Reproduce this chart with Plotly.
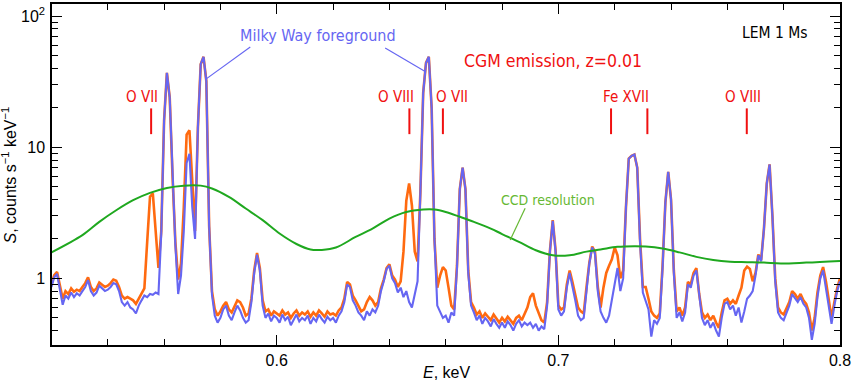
import math
import plotly.graph_objects as go

# ---- data -------------------------------------------------------------
e_start, e_step, n_chan = 0.520, 0.001, 281
energy = [round(e_start + e_step * i, 3) for i in range(n_chan)]

milky_way = [
    0.86, 1.02, 1.08, 0.85, 0.63, 0.74, 0.70, 0.78, 0.72, 0.77,
    0.74, 0.80, 0.86, 0.97, 0.80, 0.74, 0.78, 0.88, 0.84, 0.80,
    0.82, 0.86, 0.92, 0.90, 0.80, 0.66, 0.62, 0.66, 0.60, 0.58,
    0.54, 0.62, 0.68, 0.74, 0.72, 0.76, 0.75, 0.78, 0.76, 2.2,
    16, 37, 24, 6.0, 1.8, 0.76, 1.05, 2.3, 7.6, 8.9,
    3.5, 2.0, 14, 43, 49, 32, 2.5, 0.75, 0.52, 0.46,
    0.50, 0.58, 0.62, 0.52, 0.48, 0.55, 0.62, 0.57, 0.50, 0.46,
    0.48, 0.66, 1.10, 1.52, 1.15, 0.62, 0.50, 0.54, 0.47, 0.52,
    0.50, 0.46, 0.53, 0.48, 0.51, 0.44, 0.49, 0.53, 0.47, 0.50,
    0.48, 0.52, 0.45, 0.50, 0.47, 0.53, 0.49, 0.46, 0.51, 0.48,
    0.50, 0.46, 0.52, 0.56, 0.66, 0.90, 0.86, 0.68, 0.62, 0.55,
    0.52, 0.48, 0.56, 0.52, 0.58, 0.55, 0.62, 0.80, 0.95, 1.18,
    1.25, 1.0, 0.92, 0.78, 0.85, 0.72, 0.80, 0.66, 0.60, 0.78,
    0.95, 4.5, 26, 44, 49, 20, 2.0, 0.62, 0.55, 0.50,
    0.52, 0.46, 0.55, 0.52, 1.2, 4.8, 7.0, 4.8, 1.1, 0.62,
    0.55, 0.48, 0.52, 0.45, 0.50, 0.47, 0.43, 0.49, 0.45, 0.42,
    0.46, 0.42, 0.47, 0.44, 0.40, 0.45, 0.48, 0.43, 0.46, 0.44,
    0.46, 0.42, 0.45, 0.40, 0.43, 0.41, 0.62, 1.6, 2.75, 1.6,
    0.58, 0.52, 0.56, 0.85, 1.1, 0.88, 0.68, 0.52, 0.48, 0.50,
    0.82, 1.3, 1.72, 1.55, 0.80, 0.56, 0.50, 0.46, 0.52, 0.70,
    0.95, 1.2, 0.80, 1.0, 3.5, 8.2, 8.6, 8.8, 7.0, 1.9,
    0.78, 0.66, 0.58, 0.36, 0.48, 0.45, 0.50, 1.2, 3.8, 6.5,
    4.0, 1.1, 0.50, 0.55, 0.47, 0.55, 0.90, 0.85, 1.05, 1.15,
    0.72, 0.50, 0.44, 0.48, 0.42, 0.46, 0.40, 0.36, 0.50, 0.64,
    0.66, 0.58, 0.62, 0.52, 0.60, 0.46, 0.56, 0.70, 0.74, 0.80,
    1.05, 1.5, 1.35, 2.4, 5.3, 7.4, 3.0, 0.95, 0.55, 0.50,
    0.48, 0.55, 0.62, 0.76, 0.70, 0.66, 0.72, 0.64, 0.60, 0.50,
    0.34, 0.45, 0.72, 1.0, 1.15, 0.85, 0.62, 0.45, 0.62, 0.80, 0.95,
]

with_cgm = [
    0.90, 1.06, 1.12, 0.90, 0.70, 0.80, 0.76, 0.84, 0.79, 0.82,
    0.80, 0.86, 0.92, 1.02, 0.86, 0.80, 0.84, 0.93, 0.90, 0.86,
    0.88, 0.92, 0.98, 0.96, 0.86, 0.74, 0.70, 0.72, 0.70, 0.68,
    0.64, 0.70, 0.76, 0.84, 1.9, 4.2, 4.45, 2.4, 1.2, 2.3,
    16, 37, 24, 6.0, 1.9, 0.98, 1.3, 3.5, 12.5, 13.5,
    5.8, 2.3, 14, 43, 49, 32, 2.5, 0.80, 0.58, 0.52,
    0.56, 0.62, 0.66, 0.58, 0.55, 0.62, 0.68, 0.66, 0.60, 0.52,
    0.54, 0.70, 1.15, 1.56, 1.2, 0.68, 0.56, 0.58, 0.52, 0.56,
    0.54, 0.52, 0.57, 0.53, 0.55, 0.50, 0.54, 0.57, 0.52, 0.55,
    0.53, 0.56, 0.51, 0.55, 0.52, 0.57, 0.54, 0.51, 0.56, 0.53,
    0.54, 0.52, 0.57, 0.60, 0.70, 0.94, 0.90, 0.74, 0.68, 0.62,
    0.56, 0.58, 0.66, 0.72, 0.68, 0.62, 0.66, 0.84, 0.98, 1.2,
    1.28, 1.05, 0.98, 0.86, 0.95, 1.6, 3.9, 5.3, 3.6, 1.6,
    1.35, 4.5, 26, 44, 49, 20, 2.0, 0.85, 1.05, 1.22,
    1.15, 0.85, 0.62, 0.58, 1.25, 4.8, 7.0, 4.8, 1.15, 0.66,
    0.60, 0.53, 0.56, 0.50, 0.54, 0.51, 0.48, 0.53, 0.49, 0.46,
    0.50, 0.47, 0.51, 0.48, 0.45, 0.50, 0.52, 0.48, 0.53, 0.60,
    0.72, 0.77, 0.62, 0.55, 0.48, 0.46, 0.66, 1.62, 2.78, 1.65,
    0.62, 0.58, 0.60, 0.90, 1.15, 0.94, 0.76, 0.60, 0.56, 0.54,
    0.86, 1.32, 1.75, 1.6, 0.86, 0.60, 0.85, 1.1, 1.25, 1.4,
    1.72, 1.5, 1.0, 1.15, 3.5, 8.2, 8.6, 8.8, 7.0, 2.0,
    0.86, 0.86, 0.70, 0.56, 0.52, 0.50, 0.54, 1.25, 3.8, 6.5,
    4.0, 1.15, 0.56, 0.60, 0.52, 0.60, 0.94, 0.90, 1.1, 1.2,
    0.76, 0.55, 0.50, 0.53, 0.48, 0.52, 0.46, 0.42, 0.55, 0.68,
    0.70, 0.64, 0.68, 0.64, 0.74, 0.85, 1.15, 1.23, 1.18, 0.95,
    1.1, 1.52, 1.38, 2.4, 5.3, 7.4, 3.0, 1.0, 0.60, 0.55,
    0.53, 0.60, 0.66, 0.80, 0.76, 0.70, 0.76, 0.68, 0.64, 0.55,
    0.40, 0.50, 0.78, 1.05, 1.22, 0.95, 0.70, 0.50, 0.66, 0.84, 1.0,
]

ccd_E = [0.520, 0.531, 0.537, 0.543, 0.549, 0.555, 0.561, 0.567, 0.573,
         0.577, 0.583, 0.589, 0.595, 0.601, 0.607, 0.612, 0.616, 0.621,
         0.628, 0.634, 0.640, 0.646, 0.652, 0.656, 0.660, 0.665, 0.670,
         0.676, 0.680, 0.686, 0.692, 0.698, 0.704, 0.710, 0.715, 0.721,
         0.727, 0.731, 0.737, 0.743, 0.749, 0.755, 0.761, 0.767, 0.773,
         0.779, 0.788, 0.800]
ccd_S = [1.58, 2.14, 2.70, 3.31, 3.95, 4.49, 4.90, 5.10, 5.10,
         4.85, 4.18, 3.41, 2.78, 2.20, 1.83, 1.66, 1.65, 1.72,
         2.07, 2.40, 2.86, 3.21, 3.35, 3.35, 3.21, 2.95, 2.70,
         2.40, 2.18, 1.90, 1.64, 1.50, 1.50, 1.60, 1.66, 1.74,
         1.76, 1.75, 1.69, 1.58, 1.46, 1.38, 1.34, 1.33, 1.32,
         1.30, 1.32, 1.36]

line_E = [0.5554, 0.6471, 0.6590, 0.7187, 0.7316, 0.7669]
line_S = (12.6, 19.8)
line_labels = ["O VII", "O VIII", "O VII", "Fe XVII", "O VIII"]
label_E = [0.5523, 0.6425, 0.6621, 0.7240, 0.7654]
label_S = 24.0

BLUE = "#6666f2"
ORANGE = "#ff6a10"
GREEN = "#1fa81f"
RED = "#f01010"
NARROW = "DejaVu Sans Condensed, Liberation Sans Narrow, Roboto, sans-serif"
SANS = "Liberation Sans, Arial, sans-serif"

fig = go.Figure()
fig.add_trace(go.Scatter(x=energy, y=with_cgm, mode="lines",
                         line=dict(color=ORANGE, width=2.6), hoverinfo="skip"))
fig.add_trace(go.Scatter(x=energy, y=milky_way, mode="lines",
                         line=dict(color=BLUE, width=2.1), hoverinfo="skip"))
fig.add_trace(go.Scatter(x=ccd_E, y=ccd_S, mode="lines",
                         line=dict(color=GREEN, width=2, shape="spline"),
                         hoverinfo="skip"))

for e in line_E:
    fig.add_trace(go.Scatter(x=[e, e], y=list(line_S), mode="lines",
                             line=dict(color=RED, width=2), hoverinfo="skip"))

leaders = [
    ([0.5906, 0.5751], [58.1, 33.4], BLUE),
    ([0.6385, 0.6527], [57.1, 37.9], BLUE),
    ([0.6882, 0.6829], [3.43, 1.96], "#66b833"),
]
for xs, ys, c in leaders:
    fig.add_trace(go.Scatter(x=xs, y=ys, mode="lines",
                             line=dict(color=c, width=1.2), hoverinfo="skip"))

ann = []
for txt, e in zip(line_labels, label_E):
    ann.append(dict(x=e, y=math.log10(label_S), text=txt, showarrow=False,
                    font=dict(family=NARROW, size=15, color=RED)))
ann.append(dict(x=0.6145, y=math.log10(71.3), text="Milky Way foreground",
                showarrow=False, font=dict(family=NARROW, size=16, color=BLUE)))
ann.append(dict(x=0.6981, y=math.log10(45.2), text="CGM emission, z=0.01",
                showarrow=False, font=dict(family=NARROW, size=17.5, color=RED)))
ann.append(dict(x=0.7770, y=math.log10(74.5), text="LEM 1 Ms",
                showarrow=False, font=dict(family=NARROW, size=15.5, color="black")))
ann.append(dict(x=0.6962, y=math.log10(3.98), text="CCD resolution",
                showarrow=False, font=dict(family=NARROW, size=14, color="#66b833")))
# axis titles
ann.append(dict(xref="paper", yref="paper", x=0.5, y=-0.082,
                xanchor="center", yanchor="middle",
                text="<i>E</i>, keV", showarrow=False,
                font=dict(family=SANS, size=16, color="black")))
ann.append(dict(xref="paper", yref="paper", x=-0.0546, y=0.5, textangle=-90,
                xanchor="center", yanchor="middle",
                text="<i>S</i>, counts s<sup>\u22121</sup> keV<sup>\u22121</sup>",
                showarrow=False, font=dict(family=SANS, size=16, color="black")))

fig.update_layout(
    width=854, height=385,
    margin=dict(l=52, r=14, t=4, b=40, autoexpand=False),
    paper_bgcolor="white", plot_bgcolor="white",
    showlegend=False,
    annotations=ann,
    font=dict(family=SANS, size=16, color="black"),
)
fig.update_xaxes(
    range=[0.5202, 0.8], showgrid=False, zeroline=False, automargin=False,
    showline=True, linecolor="black", linewidth=1.5, mirror="allticks",
    ticks="inside", ticklen=10, tickwidth=1.3, tickcolor="black",
    tick0=0.6, dtick=0.1, tickformat=".1f",
    minor=dict(ticks="inside", ticklen=6, tickwidth=1.3, tickcolor="black",
               tick0=0.52, dtick=0.02, showgrid=False),
    tickfont=dict(size=16),
)
fig.update_yaxes(
    type="log", range=[-0.508, 2.093], showgrid=False, zeroline=False,
    automargin=False,
    showline=True, linecolor="black", linewidth=1.5, mirror="allticks",
    ticks="inside", ticklen=10, tickwidth=1.3, tickcolor="black",
    tickvals=[1, 10, 100], ticktext=["1", "10", "10<sup>2</sup>"],
    minor=dict(ticks="inside", ticklen=6, tickwidth=1.3, tickcolor="black",
               dtick="D1", showgrid=False),
    tickfont=dict(size=16), ticklabelstandoff=2,
)

fig.write_html(
    "out.html",
    config={"displayModeBar": False},
    post_script="document.body.style.margin='0';document.body.style.padding='0';",
)
